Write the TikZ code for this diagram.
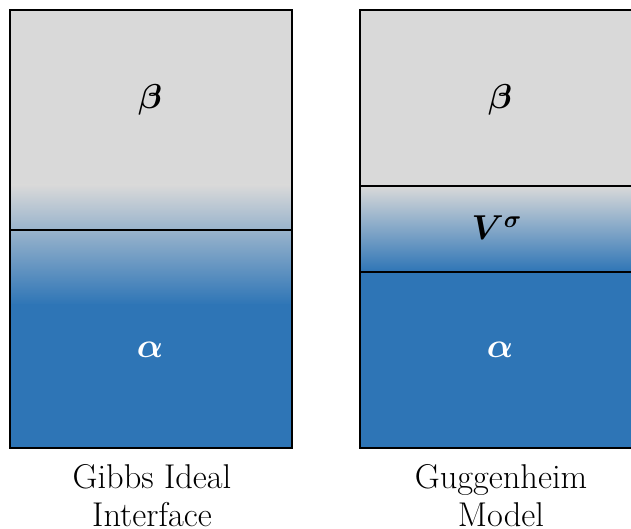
\documentclass[tikz,border=0pt]{standalone}
\usepackage{amsmath, amssymb, bm}
\usepackage{xcolor}
\usepackage{tikz}
\definecolor{phasegray}{HTML}{D9D9D9}
\definecolor{phaseblue}{HTML}{2E75B6}
\tikzset{
  phaseline/.style={line width=1pt, black},
  greeklabel/.style={font=\fontsize{18}{21}\selectfont},
  caption/.style={align=center, font=\fontsize{17.2}{19}\selectfont, anchor=north}
}

\begin{document}
\begin{tikzpicture}[x=0.5pt, y=-0.5pt]
\useasboundingbox (0,0) rectangle (631,529);
\clip (0,0) rectangle (631,529);

% Gibbs ideal interface
\fill[phasegray] (10,10) rectangle (292,186);
\shade[top color=phasegray, bottom color=phaseblue] (10,185) rectangle (292,305);
\fill[phaseblue] (10,304) rectangle (292,448);
\draw[phaseline] (10,10) rectangle (292,448);
\draw[phaseline] (10,230) -- (292,230);

\node[greeklabel] (gbeta) at (150,100) {$\bm{\beta}$};
\node[greeklabel, white] (galpha) at (150,350) {$\bm{\alpha}$};
\node[caption] (gibbs) at (152,457) {Gibbs Ideal\\Interface};

% Guggenheim model
\fill[phasegray] (360,10) rectangle (640,186);
\shade[top color=phasegray, bottom color=phaseblue] (360,186) rectangle (640,272);
\fill[phaseblue] (360,272) rectangle (640,448);
\draw[phaseline] (360,10) rectangle (640,448);
\draw[phaseline] (360,186) -- (640,186);
\draw[phaseline] (360,272) -- (640,272);

\node[greeklabel] (mbeta) at (500,100) {$\bm{\beta}$};
\node[greeklabel] (vsigma) at (497,228) {$\bm{V^{\sigma}}$};
\node[greeklabel, white] (malpha) at (500,350) {$\bm{\alpha}$};
\node[caption] (guggen) at (501,457) {Guggenheim\\Model};

\end{tikzpicture}
\end{document}
